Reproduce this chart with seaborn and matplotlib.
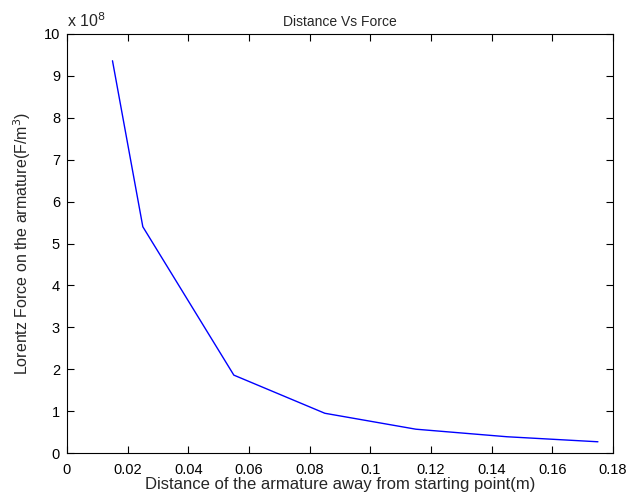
import numpy as np
import pandas as pd
import matplotlib
matplotlib.use("Agg")
import matplotlib.pyplot as plt
import seaborn as sns

# distance (m) vs Lorentz force
distance = [0.015, 0.025, 0.055, 0.085, 0.115, 0.145, 0.175]
force = [9.36e8, 5.40e8, 1.86e8, 0.95e8, 0.57e8, 0.39e8, 0.27e8]

x_ticks = [0, 0.02, 0.04, 0.06, 0.08, 0.1, 0.12, 0.14, 0.16, 0.18]
x_labels = ["0", "0.02", "0.04", "0.06", "0.08", "0.1", "0.12", "0.14", "0.16", "0.18"]
y_ticks = list(range(0, 11))

df = pd.DataFrame({"Distance": distance, "Force": np.array(force) / 1e8})

sns.set_style("white")
plt.rcParams["font.family"] = ["Liberation Sans", "DejaVu Sans"]
plt.rcParams["xtick.direction"] = "in"
plt.rcParams["ytick.direction"] = "in"

fig = plt.figure(figsize=(6.44, 4.99), dpi=100)
ax = fig.add_axes([0.104, 0.092, 0.848, 0.84])
sns.lineplot(data=df, x="Distance", y="Force", color="#0000ff", linewidth=1.0, ax=ax)

ax.set_xlim(0, 0.18)
ax.set_ylim(0, 10)
ax.set_xticks(x_ticks)
ax.set_xticklabels(x_labels)
ax.set_yticks(y_ticks)
ax.tick_params(axis="both", which="both", direction="in", length=5, width=0.8,
               labelsize=10.5, top=True, right=True, bottom=True, left=True, colors="black")
ax.tick_params(axis="x", pad=7)
ax.tick_params(axis="y", pad=5)
for s in ax.spines.values():
    s.set_color("black")
    s.set_linewidth(0.8)

ax.set_title("Distance Vs Force", fontsize=10)
ax.set_xlabel("Distance of the armature away from starting point(m)", fontsize=12, labelpad=0)
ax.set_ylabel("Lorentz Force on the armature(F/m$^3$)", fontsize=11.5, labelpad=8)
ax.text(0.0, 1.01, r"x 10$^{8}$", transform=ax.transAxes, fontsize=11.5, ha="left", va="bottom")

fig.savefig("out.png", dpi=100)
